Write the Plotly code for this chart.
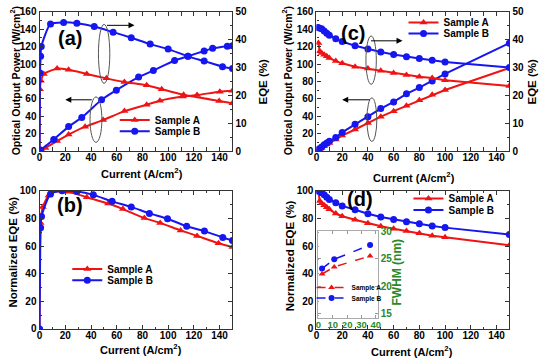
import plotly.graph_objects as go

W, H = 542, 364
def px(x): return x / W
def py(y): return 1 - y / H

RED = '#ee1414'
BLUE = '#1616ee'
GREEN = '#2a8a2a'
FONT = 'Liberation Sans'
AXC = '#333333'

# ---------------- data ----------------
# (a) optical output power (W/cm2) and EQE (%) vs current (A/cm2)
a_J_powA = [1.5, 4.6, 13.6, 22.6, 35.4, 49.5, 66, 83.3, 93.6, 111.5, 122.5, 140.2, 150]
a_powA = [1.0, 3.6, 11.5, 18.9, 28.0, 35.6, 45.9, 53.3, 57.8, 62.6, 64.4, 68.1, 69.3]
a_J_powB = [0.8, 11, 22.6, 32.8, 48.2, 59.7, 77, 88.5, 105, 115.4, 128, 134.6, 146, 150]
a_powB = [1.2, 13.3, 28.1, 38.5, 58.9, 70.0, 85.0, 92.5, 104.0, 109.0, 115.0, 118.0, 120.5, 121.0]
a_J_eqeA = [0, 0.3, 1, 3.3, 13.6, 22.6, 36.7, 52, 66, 83.3, 95, 112, 139.7, 150]
a_eqeA = [0, 22.2, 25.2, 27.7, 29.6, 29.2, 27.7, 26.1, 24.8, 23.6, 22.2, 20.2, 18.0, 17.2]
a_J_eqeB = [0, 0.3, 0.8, 1.3, 8.5, 18.7, 29, 42.5, 57.2, 71.3, 86, 100, 115.4, 128, 142.3, 150]
a_eqeB = [0, 28, 34, 37.5, 45.6, 46.2, 45.9, 44.7, 42.7, 40.7, 38.4, 36.6, 34.0, 32.3, 30.3, 29.6]

# (b) normalized EQE (%)
b_J_A = [0, 0.8, 2.5, 7, 13.6, 22.6, 36.7, 53.3, 64.8, 81.5, 93.8, 109.7, 122.5, 139.2, 150]
b_A = [0, 76.7, 88.3, 96.5, 100, 99.3, 95.3, 90.7, 86.7, 80.2, 76.7, 71.3, 67.3, 62.0, 59.2]
b_J_B = [0, 0.8, 1.5, 8.5, 17.5, 29, 41.8, 56.4, 71.3, 85.4, 99.5, 114.4, 128.2, 142.5, 150]
b_B = [0, 73.2, 81.4, 97.7, 100, 99.4, 97.0, 92.3, 88.3, 83.6, 79.7, 74.3, 70.8, 66.2, 63.9]

# (c) optical output power and EQE
c_J_A = [1.5, 2.5, 4, 6, 8, 10, 15, 20, 30, 40, 50, 60, 70, 80, 90, 100, 150]
c_powA = [1.6, 2.5, 3.9, 5.7, 7.5, 9.2, 13.3, 17.8, 24.8, 32.3, 39.5, 45.8, 52.0, 58.3, 64.6, 70.1, 95.5]
c_eqeA = [38.8, 35.8, 35.2, 34.6, 34.0, 33.4, 32.3, 31.5, 30.3, 29.6, 28.8, 28.0, 27.3, 26.7, 26.2, 25.4, 23.4]
c_J_B = [1, 2, 4, 6, 8, 10, 15, 20, 30, 40, 50, 60, 70, 80, 90, 100, 150]
c_powB = [1.2, 2.4, 4.8, 7.1, 9.3, 11.4, 15.5, 21.4, 30.7, 39.5, 48.8, 56.5, 65.8, 72.9, 80.5, 88.6, 124.0]
c_eqeB = [44.4, 44.2, 43.9, 43.1, 42.3, 41.6, 40.3, 39.3, 37.8, 36.6, 35.6, 34.7, 33.9, 33.2, 32.6, 32.0, 30.0]

# (d) normalized EQE (%)
d_J_A = [1.5, 2.5, 4, 6, 8, 10, 15, 20, 30, 40, 50, 60, 70, 80, 90, 100, 150]
d_A = [100, 92.5, 91.0, 89.5, 88.0, 86.5, 83.5, 81.5, 79.0, 76.5, 74.3, 72.5, 70.8, 69.2, 67.4, 66.3, 60.6]
d_J_B = [1, 2, 4, 6, 8, 10, 15, 20, 30, 40, 50, 60, 70, 80, 90, 100, 150]
d_B = [100, 99.5, 98.5, 97.0, 95.3, 93.7, 91.3, 89.0, 86.2, 83.3, 81.0, 79.2, 77.6, 76.1, 74.5, 73.3, 68.4]

# inset of (d): FWHM (nm)
ins_J = [2.5, 11, 36]
ins_A = [22.2, 23.5, 25.5]
ins_B = [23.2, 24.9, 27.5]

labels = ['Sample A', 'Sample B']

# ---------------- traces ----------------
fig = go.Figure()

def tr(x, y, xa, ya, color, sym, name, legend=None, dash='solid', msize=7, lw=2, shape='linear'):
    fig.add_trace(go.Scatter(
        x=x, y=y, xaxis=xa, yaxis=ya, mode='lines+markers', name=name,
        line=dict(color=color, width=lw, dash=dash, shape=shape, smoothing=0.6),
        marker=dict(symbol=sym, size=msize, color=color),
        showlegend=legend is not None, legend=legend if legend else 'legend'))

# (a)
tr(a_J_powA, a_powA, 'x', 'y', RED, 'triangle-up', labels[0], 'legend', shape='spline')
tr(a_J_powB, a_powB, 'x', 'y', BLUE, 'circle', labels[1], 'legend2', shape='spline')
tr(a_J_eqeA, a_eqeA, 'x', 'y2', RED, 'triangle-up', labels[0], shape='spline')
tr(a_J_eqeB, a_eqeB, 'x', 'y2', BLUE, 'circle', labels[1], shape='spline')
# (c)
tr(c_J_A, c_powA, 'x2', 'y3', RED, 'triangle-up', labels[0], 'legend3')
tr(c_J_B, c_powB, 'x2', 'y3', BLUE, 'circle', labels[1], 'legend4')
tr(c_J_A, c_eqeA, 'x2', 'y4', RED, 'triangle-up', labels[0])
tr(c_J_B, c_eqeB, 'x2', 'y4', BLUE, 'circle', labels[1])
# (b)
tr(b_J_A, b_A, 'x3', 'y5', RED, 'triangle-up', labels[0], 'legend5', shape='spline')
tr(b_J_B, b_B, 'x3', 'y5', BLUE, 'circle', labels[1], 'legend6', shape='spline')
# (d)
tr(d_J_A, d_A, 'x4', 'y6', RED, 'triangle-up', labels[0], 'legend7')
tr(d_J_B, d_B, 'x4', 'y6', BLUE, 'circle', labels[1], 'legend8')
# inset
tr(ins_J, ins_A, 'x5', 'y7', RED, 'triangle-up', labels[0], 'legend9', dash='dash', msize=6, lw=1.5)
tr(ins_J, ins_B, 'x5', 'y7', BLUE, 'circle', labels[1], 'legend10', dash='dash', msize=6, lw=1.5)

# ---------------- axes ----------------
tickfont = dict(family=FONT, size=10, color='black', weight='bold')

def xax(x0, x1, anchor):
    return dict(domain=[px(x0), px(x1)], anchor=anchor, range=[0, 150], dtick=20,
                ticks='inside', ticklen=4, tickcolor=AXC, mirror='allticks', showline=True,
                linecolor=AXC, linewidth=1.2, showgrid=False, zeroline=False, tickfont=tickfont,
                ticklabelstandoff=-3,
                minor=dict(ticks='inside', ticklen=2, dtick=10, tickcolor=AXC))

def yax(y_top, y_bot, anchor, rng, dt, mirror=False, **kw):
    d = dict(domain=[py(y_bot), py(y_top)], anchor=anchor, range=rng, dtick=dt,
             ticks='inside', ticklen=4, tickcolor=AXC, mirror=mirror, showline=True,
             linecolor=AXC, linewidth=1.2, showgrid=False, zeroline=False, tickfont=tickfont,
             minor=dict(ticks='inside', ticklen=2, dtick=dt / 2, tickcolor=AXC))
    d.update(kw)
    return d

layout = dict(
    width=W, height=H, margin=dict(l=0, r=0, t=0, b=0),
    paper_bgcolor='white', plot_bgcolor='white',
    font=dict(family=FONT, color='black'),
    xaxis=xax(37, 232, 'y'),
    yaxis=yax(6, 150, 'x', [0, 160], 20),
    yaxis2=yax(6, 150, 'x', [0, 50], 10, overlaying='y', side='right'),
    xaxis2=xax(317, 512, 'y3'),
    yaxis3=yax(6, 150, 'x2', [0, 160], 20),
    yaxis4=yax(6, 150, 'x2', [0, 50], 10, overlaying='y3', side='right'),
    xaxis3=xax(37, 232, 'y5'),
    yaxis5=yax(191, 334, 'x3', [0, 100], 20, mirror='allticks'),
    xaxis4=xax(317, 512, 'y6'),
    yaxis6=yax(191, 334, 'x4', [0, 100], 20, mirror='allticks'),
)

# inset axes
gfont = dict(family=FONT, size=9.5, color=GREEN, weight='bold')
layout['xaxis5'] = dict(domain=[px(319), px(379)], anchor='y7', range=[0, 41.4], dtick=10,
                        ticks='inside', ticklen=3, tickcolor='#999999', mirror='allticks', showline=True,
                        linecolor='#aaaaaa', linewidth=1, showgrid=False, zeroline=False, tickfont=gfont,
                        ticklabelstandoff=-3)
layout['yaxis7'] = dict(domain=[py(323), py(233)], anchor='x5', range=[14.1, 30], dtick=5, side='right',
                        ticks='inside', ticklen=3, tickcolor='#999999', mirror='allticks', showline=True,
                        linecolor='#aaaaaa', linewidth=1, showgrid=False, zeroline=False,
                        tickfont=dict(family=FONT, size=10, color=GREEN, weight='bold'))

# legends
def leg(text_x, y, size=10):
    return dict(x=px(text_x - 40), y=py(y), xanchor='left', yanchor='middle',
                bgcolor='rgba(0,0,0,0)', borderwidth=0, itemwidth=30,
                font=dict(family=FONT, size=size, color='black', weight='bold'))

layout['legend'] = leg(153, 118)
layout['legend2'] = leg(153, 129.5)
layout['legend3'] = leg(445, 17)
layout['legend4'] = leg(445, 28.5)
layout['legend5'] = leg(105, 272)
layout['legend6'] = leg(105, 283.5)
layout['legend7'] = leg(450, 199)
layout['legend8'] = leg(450, 211)
layout['legend9'] = leg(352, 291, 6.5)
layout['legend10'] = leg(352, 302, 6.5)

fig.update_layout(**layout)

# ---------------- annotations ----------------
ann = []
def txt(t, x, y, size=11, angle=0, color='black'):
    ann.append(dict(text=t, x=px(x), y=py(y), xref='paper', yref='paper', showarrow=False,
                    textangle=angle, xanchor='center', yanchor='middle',
                    font=dict(family=FONT, size=size, color=color, weight='bold')))

cur = 'Current (A/cm<sup>2</sup>)'
pow_t = 'Optical Output Power (W/cm<sup>2</sup>)'
txt(pow_t, 12, 77, 10.5, -90)
txt('EQE (%)', 263, 78, 11.5, -90)
txt(cur, 141, 173)
txt(pow_t, 287, 77, 10.5, -90)
txt('EQE (%)', 535, 78, 11.5, -90)
txt(cur, 416, 177)
txt('Normalized EQE (%)', 10, 254, 11.5, -90)
txt(cur, 140, 355)
txt('Normalized EQE (%)', 291, 258, 11.5, -90)
txt(cur, 414, 357)
txt('FWHM (nm)', 398, 275, 12, -90, GREEN)
txt('(a)', 68, 33, 20)
txt('(c)', 354, 28, 20)
txt('(b)', 68, 206, 20)
txt('(d)', 361, 200, 20)

def arrow(hx, hy, tx, ty):
    ann.append(dict(text='', x=px(hx), y=py(hy), xref='paper', yref='paper', showarrow=True,
                    ax=tx - hx, ay=ty - hy, arrowhead=2, arrowsize=1.2, arrowwidth=1,
                    arrowcolor='black'))

arrow(133, 20, 104, 20)
arrow(63, 97, 91, 97)
arrow(404, 36, 371, 36)
arrow(343, 97, 372, 97)
fig.update_layout(annotations=ann)

def ell(x0, x1, y0, y1):
    fig.add_shape(type='circle', xref='paper', yref='paper', x0=px(x0), x1=px(x1),
                  y0=py(y1), y1=py(y0), line=dict(color='#555555', width=1))

ell(96.5, 108, 19, 80)
ell(88, 100, 94, 141)
ell(367, 377.5, 31, 81)
ell(368, 378, 95, 140)

fig.write_html('out.html', config={'displayModeBar': False},
               post_script="document.body.style.margin='0';document.body.style.overflow='hidden';")
